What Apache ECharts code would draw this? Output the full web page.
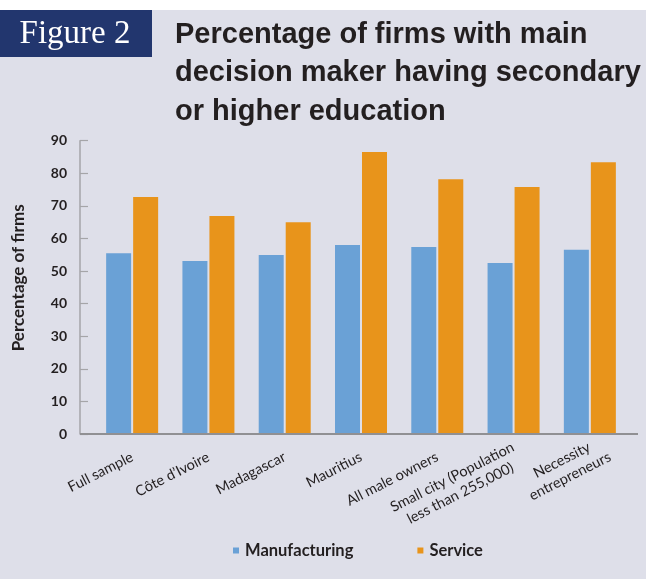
<!DOCTYPE html>
<html>
<head>
<meta charset="utf-8">
<script src="https://cdn.jsdelivr.net/npm/echarts@6/dist/echarts.min.js"></script>
<style>
  html, body { margin: 0; padding: 0; background: #ffffff; }
  #chart { width: 646px; height: 579px; }
</style>
</head>
<body>
<div id="chart"></div>
<script>
// Categories shown along the horizontal axis
const categories = [
  'Full sample',
  'Côte d’Ivoire',
  'Madagascar',
  'Mauritius',
  'All male owners',
  'Small city (Population\nless than 255,000)',
  'Necessity\nentrepreneurs'
];
// Share of firms (%) whose main decision maker has secondary or higher education
const manufacturing = [55.5, 53.1, 54.9, 58.0, 57.4, 52.5, 56.5];
const service = [72.7, 66.9, 65.0, 86.5, 78.2, 75.8, 83.4];
const seriesNames = ['Manufacturing', 'Service'];
const yMin = 0, yMax = 90, yStep = 10;

const INK = '#231f20';
const LABEL_FONT = 'Lato, "Open Sans", sans-serif';
const X_FONT_SIZE = 14.5;
const X_LINE_HEIGHT = 18;

const chart = echarts.init(document.getElementById('chart'), null, { renderer: 'canvas' });

// Category labels: the first line ends at the tick, later lines are centred under it.
const measureCtx = document.createElement('canvas').getContext('2d');
measureCtx.font = X_FONT_SIZE + 'px ' + LABEL_FONT;
const xData = categories.map(function (c) {
  const lines = c.split('\n');
  const firstWidth = measureCtx.measureText(lines[0]).width;
  return {
    value: c,
    textStyle: {
      align: 'center',
      verticalAlign: 'middle',
      padding: [(lines.length - 1) * X_LINE_HEIGHT, firstWidth - (lines.length - 1) * 8, 0, 0]
    }
  };
});

chart.setOption({
  backgroundColor: '#dedfe9',
  animation: false,
  title: {
    text: 'Percentage of firms with main\ndecision maker having secondary\nor higher education',
    left: 175,
    top: 16,
    padding: 0,
    textStyle: {
      fontFamily: '"Liberation Sans", Arial, sans-serif',
      fontWeight: 'bold',
      fontSize: 29,
      lineHeight: 38.3,
      color: INK
    }
  },
  legend: {
    left: 233,
    top: 542,
    icon: 'rect',
    itemWidth: 6,
    itemHeight: 6,
    itemGap: 64,
    padding: 0,
    data: seriesNames,
    textStyle: { fontFamily: LABEL_FONT, fontSize: 16.5, fontWeight: 'bold', color: INK, padding: [0, 0, 0, 1] }
  },
  grid: { left: 94, right: 18, top: 140.7, bottom: 145, containLabel: false, outerBoundsMode: 'none' },
  xAxis: {
    type: 'category',
    data: xData,
    axisLine: { show: false },
    axisTick: { show: false },
    axisLabel: {
      interval: 0,
      rotate: 27,
      margin: 22,
      color: INK,
      fontFamily: LABEL_FONT,
      fontSize: X_FONT_SIZE,
      lineHeight: X_LINE_HEIGHT
    }
  },
  yAxis: {
    type: 'value',
    min: yMin,
    max: yMax,
    interval: yStep,
    offset: 14,
    name: 'Percentage of firms',
    nameLocation: 'middle',
    nameGap: 53,
    nameTextStyle: { fontFamily: LABEL_FONT, fontSize: 17, fontWeight: 'bold', color: INK, padding: [0, 0, 0, 19] },
    axisLine: { show: true, lineStyle: { color: '#a5a5a8', width: 1.5 } },
    axisTick: { show: true, inside: true, length: 8, lineStyle: { color: '#a5a5a8', width: 1.2 } },
    axisLabel: { margin: 13, color: INK, fontFamily: LABEL_FONT, fontSize: 14, fontWeight: 'bold' },
    splitLine: { show: false }
  },
  series: [
    {
      name: seriesNames[0],
      type: 'bar',
      data: manufacturing,
      barWidth: 25,
      barGap: '8%',
      itemStyle: { color: '#6aa1d6' }
    },
    {
      name: seriesNames[1],
      type: 'bar',
      data: service,
      barWidth: 25,
      barGap: '8%',
      itemStyle: { color: '#e8941b' }
    }
  ]
});

// Frame: white strip at the top, the "Figure 2" tab, and the long baseline
const zeroY = chart.convertToPixel({ yAxisIndex: 0 }, yMin);
chart.setOption({
  graphic: [
    { type: 'rect', shape: { x: 0, y: 0, width: 646, height: 10 }, style: { fill: '#ffffff' }, silent: true },
    { type: 'rect', shape: { x: 0, y: 10, width: 152, height: 47 }, style: { fill: '#22366e' }, silent: true },
    {
      type: 'text', x: 75, y: 34,
      style: {
        text: 'Figure 2', fill: '#ffffff', align: 'center', verticalAlign: 'middle',
        font: '33px "Liberation Serif", "Times New Roman", serif'
      },
      silent: true
    },
    {
      type: 'line', shape: { x1: 80, y1: zeroY, x2: 638, y2: zeroY },
      style: { stroke: '#909093', lineWidth: 2 }, silent: true, z: 10
    }
  ]
});
</script>
</body>
</html>
